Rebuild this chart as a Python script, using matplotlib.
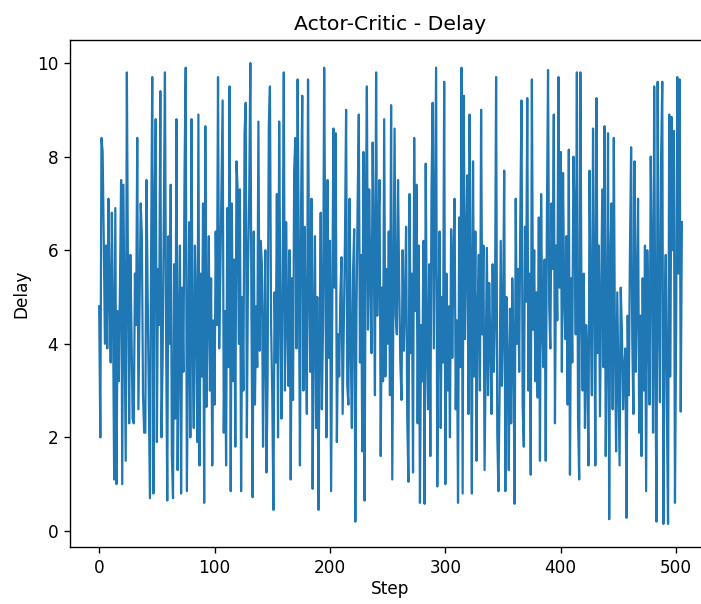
import matplotlib
matplotlib.use('Agg')
import matplotlib.pyplot as plt
import numpy as np

# delay per step from the actor-critic run
delay = [
    4.8, 2.0, 8.4, 8.1, 6.2, 4.0, 6.1, 3.9, 7.1, 5.0, 3.6, 6.8, 4.6, 1.1, 6.9, 1.0, 4.7, 3.2, 5.2, 7.5,
    1.0, 7.4, 4.5, 1.5, 9.8, 5.3, 2.3, 5.9, 4.3, 2.4, 2.3, 5.5, 4.4, 8.4, 2.6, 4.9, 7.0, 6.3, 2.9, 2.1,
    2.1, 7.5, 5.1, 3.0, 0.7, 5.9, 9.7, 0.8, 6.9, 8.8, 1.9, 5.6, 4.4, 9.4, 2.0, 3.7, 6.6, 9.8, 4.2, 0.65,
    6.3, 4.0, 7.4, 1.6, 0.7, 5.7, 2.4, 8.8, 1.3, 4.1, 6.1, 0.8, 5.2, 3.4, 7.7, 9.9, 0.85, 3.6, 6.6, 2.0,
    8.8, 4.0, 2.2, 6.1, 4.7, 1.9, 8.9, 1.4, 5.5, 3.3, 7.0, 0.6, 8.65, 2.65, 4.7, 6.3, 3.0, 5.4, 1.4, 4.5,
    2.7, 6.4, 4.4, 9.7, 3.9, 5.5, 7.4, 9.2, 2.1, 4.7, 1.4, 6.9, 3.5, 9.5, 0.85, 7.0, 3.2, 5.8, 1.8, 7.9,
    7.3, 4.0, 7.3, 0.85, 5.0, 3.0, 8.5, 9.15, 2.0, 5.6, 7.1, 10.0, 4.5, 0.72, 6.4, 2.7, 4.8, 3.5, 8.75, 3.85,
    6.2, 5.7, 1.8, 4.3, 6.0, 1.25, 3.3, 8.65, 9.5, 4.4, 2.9, 0.45, 5.1, 3.6, 7.2, 2.0, 8.75, 4.9, 2.4, 5.3,
    9.8, 3.0, 6.6, 4.5, 3.1, 6.0, 1.1, 5.4, 2.8, 7.7, 8.4, 3.9, 9.65, 5.8, 1.4, 7.0, 9.3, 3.0, 6.5, 4.1,
    2.5, 9.65, 5.2, 3.4, 7.1, 0.9, 4.6, 6.3, 2.2, 5.0, 0.45, 3.9, 6.8, 2.6, 4.4, 9.9, 5.65, 2.0, 7.5, 3.7,
    6.2, 0.85, 4.9, 8.6, 5.2, 8.5, 1.9, 4.2, 3.3, 5.0, 5.85, 2.5, 4.4, 6.2, 9.0, 3.1, 2.7, 7.1, 4.0, 2.2,
    5.5, 6.45, 0.2, 4.7, 7.0, 8.9, 3.6, 5.9, 1.7, 8.1, 0.65, 6.3, 9.5, 4.3, 7.3, 5.4, 3.8, 8.3, 6.0, 2.9,
    9.8, 4.6, 6.5, 7.5, 1.6, 5.2, 3.2, 8.8, 3.3, 5.6, 4.0, 6.4, 2.9, 9.1, 1.1, 5.0, 8.6, 4.6, 4.2, 7.5,
    5.3, 3.6, 2.8, 6.0, 3.85, 4.9, 6.5, 2.4, 1.05, 7.2, 3.8, 5.5, 1.25, 8.4, 4.7, 7.4, 2.3, 6.1, 0.6, 4.4,
    3.2, 6.2, 0.58, 7.85, 4.0, 2.6, 5.7, 1.6, 7.3, 9.15, 3.9, 6.8, 9.9, 0.95, 4.4, 6.4, 2.2, 5.0, 3.6, 9.6,
    1.0, 5.5, 3.0, 4.8, 2.0, 6.45, 3.7, 5.8, 7.1, 2.6, 4.5, 0.6, 6.7, 3.5, 9.9, 0.8, 9.3, 4.1, 6.0, 7.6,
    2.5, 8.9, 5.2, 0.8, 7.9, 3.3, 6.4, 1.5, 4.7, 5.9, 3.0, 9.0, 4.2, 6.1, 1.3, 3.7, 6.05, 2.9, 5.3, 4.0,
    2.5, 5.7, 3.4, 4.6, 9.7, 2.1, 0.85, 2.9, 6.2, 3.1, 4.4, 7.7, 0.85, 5.0, 3.6, 1.3, 4.75, 2.3, 5.4, 3.9,
    0.58, 7.1, 4.0, 5.6, 3.4, 6.8, 9.2, 2.7, 1.8, 6.5, 4.9, 9.25, 3.0, 5.5, 1.2, 9.65, 4.3, 6.0, 3.2, 5.1,
    2.85, 6.7, 1.5, 7.2, 4.4, 3.5, 5.8, 1.5, 6.6, 9.85, 4.8, 3.9, 7.0, 5.6, 8.9, 2.3, 6.1, 4.5, 9.7, 5.2,
    8.1, 3.4, 7.65, 5.0, 4.1, 6.3, 2.7, 8.15, 1.2, 5.4, 3.6, 8.0, 6.7, 4.2, 9.8, 2.4, 1.1, 9.8, 4.9, 3.0,
    5.5, 2.2, 4.4, 3.7, 1.4, 7.7, 4.6, 2.9, 8.6, 5.3, 1.4, 9.25, 3.8, 6.1, 2.45, 4.8, 7.3, 3.5, 8.65, 1.6,
    4.0, 8.5, 0.25, 5.8, 7.0, 2.6, 8.4, 3.9, 1.7, 5.1, 3.2, 1.4, 5.2, 4.3, 2.6, 3.5, 3.9, 0.28, 4.6, 2.9,
    6.0, 8.2, 4.1, 2.5, 7.9, 3.4, 5.0, 7.1, 2.1, 4.6, 1.6, 5.4, 3.0, 6.1, 0.85, 6.0, 4.5, 2.7, 8.0, 5.8,
    2.1, 9.5, 3.7, 0.2, 9.6, 4.8, 2.75, 8.0, 9.6, 0.15, 4.4, 5.9, 2.6, 0.15, 8.9, 3.3, 8.85, 6.0, 8.55, 0.6,
    4.2, 9.7, 5.5, 9.65, 2.55, 6.6,
]
steps = np.arange(len(delay))

# everything drawn about 1.22x the default size
s = 1.22
plt.rcParams['font.size'] = 10 * s
plt.rcParams['axes.linewidth'] = 0.8 * s
for a in ('xtick', 'ytick'):
    plt.rcParams[a + '.major.size'] = 3.5 * s
    plt.rcParams[a + '.major.width'] = 0.8 * s
    plt.rcParams[a + '.major.pad'] = 3.5 * s
plt.rcParams['axes.titlepad'] = 6 * s

fig = plt.figure(figsize=(7.01, 6.04), dpi=100)
# axes run a little past the right edge of the figure
ax = fig.add_axes([0.0999, 0.0944, 0.9144, 0.8394])
ax.plot(steps, delay, color='#1f77b4', lw=1.6)

ax.set_title('Actor-Critic - Delay', fontsize=12 * s)
ax.set_xlabel('Step', labelpad=2.5)
ax.set_ylabel('Delay', labelpad=4 * s)
ax.set_xticks([0, 100, 200, 300, 400, 500])
ax.set_yticks([0, 2, 4, 6, 8, 10])

plt.savefig('out.png', dpi=100)
